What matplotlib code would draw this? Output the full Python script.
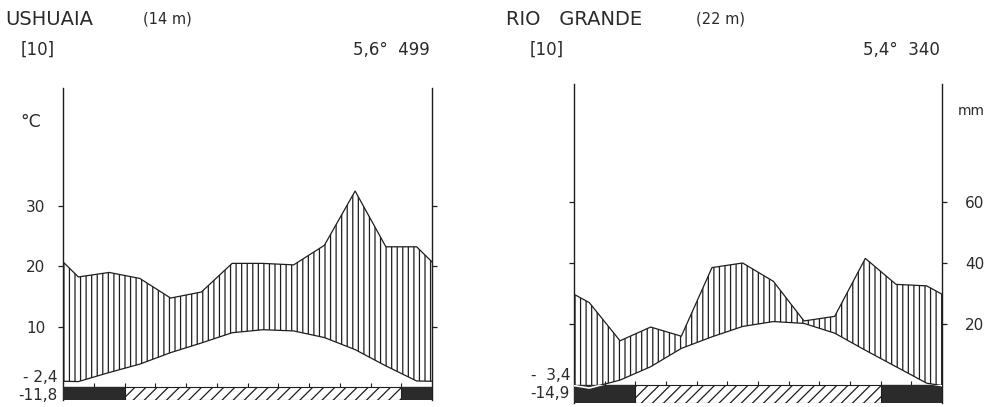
import matplotlib
matplotlib.use('Agg')
import matplotlib.pyplot as plt
from matplotlib.patches import Rectangle
import numpy as np

W, H = 997, 407

# monthly values, southern hemisphere order (Jul ... Jun)
ush_temp = [0.9, 2.4, 3.8, 5.7, 7.3, 9.0, 9.5, 9.3, 8.2, 6.2, 3.5, 1.0]
ush_prec = [36.5, 38, 36, 29.5, 31.5, 41, 41, 40.5, 47, 65, 46.5, 46.5]
ush_frost = [(0, 2), (11, 1)]       # mean daily min < 0 (black)
ush_abs_frost = [(2, 9)]            # absolute min < 0 (hatched)

rio_temp = [-0.5, 0.8, 3.0, 6.0, 7.9, 9.6, 10.4, 10.1, 8.5, 5.7, 3.0, 0.3]
rio_prec = [27, 14.5, 19, 16, 38.5, 40, 34, 21, 22.5, 41.5, 33, 32.5]
rio_frost = [(0, 2), (10, 2)]
rio_abs_frost = [(2, 8)]

plt.rcParams.update({
    'font.family': 'DejaVu Sans',
    'hatch.linewidth': 0.9,
    'text.color': '#2a2a2a',
})

INK = '#1e1e1e'

fig = plt.figure(figsize=(W / 100, H / 100), dpi=100)


def fx(px):
    return px / W


def fy(py):
    return 1 - py / H


def wrap(vals):
    # close the annual cycle at both edges
    edge = (vals[0] + vals[-1]) / 2
    return np.array([edge] + list(vals) + [edge])


xs = np.concatenate([[0], np.arange(12) + 0.5, [12]])


def panel(x0, x1, y0, px10, ytop, ybot, temp, prec, frost, abs_frost, right_labels):
    lo = -(ybot - y0) / px10 * 10
    hi = (y0 - ytop) / px10 * 10
    ax = fig.add_axes([fx(x0), fy(ybot), fx(x1 - x0), (ybot - ytop) / H])
    ax.set_xlim(0, 12)
    ax.set_ylim(lo, hi)
    ax.patch.set_visible(False)
    for s in ['top', 'bottom']:
        ax.spines[s].set_visible(False)
    for s in ['left', 'right']:
        ax.spines[s].set_color(INK)
        ax.spines[s].set_linewidth(1.0)
    ax.set_xticks([])
    ax.set_yticks([10, 20, 30])
    ax.tick_params(axis='y', direction='out', length=3.6, width=0.9, color=INK,
                   left=True, right=True, labelsize=11, labelcolor='#2a2a2a')
    if right_labels:
        ax.set_yticklabels(['20', '40', '60'])
        ax.tick_params(axis='y', labelleft=False, labelright=True, pad=13)
    else:
        ax.set_yticklabels(['10', '20', '30'])
        ax.tick_params(axis='y', labelleft=True, labelright=False, pad=9)

    t = wrap(temp)
    p = wrap(prec) / 2  # 10 degC = 20 mm
    ax.fill_between(xs, p, t, where=p >= t, interpolate=True, facecolor='none',
                    edgecolor=INK, hatch='|||', linewidth=0, zorder=1)
    ax.plot(xs, p, color=INK, lw=0.9, zorder=2)
    ax.plot(xs, t, color=INK, lw=0.9, zorder=2)

    ax.broken_barh(frost, (lo, -lo), facecolor='#2b2b2b', edgecolor='#2b2b2b', zorder=3)
    ax.broken_barh(abs_frost, (lo, -lo), facecolor='white', edgecolor=INK,
                   hatch='///', linewidth=0.8, zorder=3)
    # temperature below zero shows as a white line inside the bar
    clip = Rectangle((0, lo), 12, -lo, transform=ax.transData, visible=False)
    ax.add_patch(clip)
    wl, = ax.plot(xs, t, color='white', lw=1.2, zorder=4)
    wl.set_clip_path(clip)
    ax.vlines(np.arange(1, 12), 0, 0.7, color=INK, lw=0.8, zorder=4)
    return ax


panel(63, 432, 387, 60.3, 88, 400, ush_temp, ush_prec, ush_frost, ush_abs_frost, False)
panel(574, 942, 385, 61.0, 84, 403, rio_temp, rio_prec, rio_frost, rio_abs_frost, True)

# headers
fig.text(fx(5), fy(25), 'USHUAIA', fontsize=14, va='baseline')
fig.text(fx(143), fy(23), '(14 m)', fontsize=10.5, va='baseline')
fig.text(fx(21), fy(55), '[10]', fontsize=12, va='baseline')
fig.text(fx(430), fy(55), '5,6°  499', fontsize=12, va='baseline', ha='right')
fig.text(fx(20), fy(127), '°C', fontsize=12.5, va='baseline')
fig.text(fx(57), fy(377), '- 2,4', fontsize=11, va='center', ha='right')
fig.text(fx(57), fy(395), '-11,8', fontsize=11, va='center', ha='right')

fig.text(fx(506), fy(25), 'RIO   GRANDE', fontsize=14, va='baseline')
fig.text(fx(696), fy(23), '(22 m)', fontsize=10.5, va='baseline')
fig.text(fx(530), fy(55), '[10]', fontsize=12, va='baseline')
fig.text(fx(940), fy(55), '5,4°  340', fontsize=12, va='baseline', ha='right')
fig.text(fx(958), fy(111), 'mm', fontsize=10, va='center')
fig.text(fx(570), fy(376), '-  3,4', fontsize=11, va='center', ha='right')
fig.text(fx(570), fy(393), '-14,9', fontsize=11, va='center', ha='right')

fig.savefig('out.png', dpi=100, facecolor='white')
